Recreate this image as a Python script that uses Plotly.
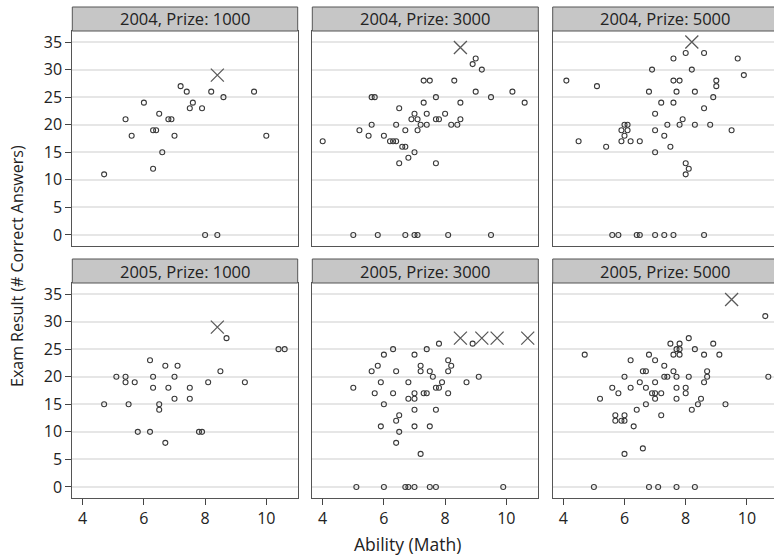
import plotly.graph_objects as go

W, H = 774, 555
FONT = "Open Sans"

panel_titles = ["2004, Prize: 1000", "2004, Prize: 3000", "2004, Prize: 5000",
                "2005, Prize: 1000", "2005, Prize: 3000", "2005, Prize: 5000"]

# 2004, Prize 1000
ability_04_1000 = [4.7, 5.4, 5.6, 6.0, 6.3, 6.4, 6.3, 6.5, 6.6, 6.8, 6.9, 7.0, 7.2, 7.4, 7.5, 7.6,
                   7.9, 8.2, 8.6, 9.6, 10.0, 8.0, 8.4]
score_04_1000 = [11, 21, 18, 24, 19, 19, 12, 22, 15, 21, 21, 18, 27, 26, 23, 24,
                 23, 26, 25, 26, 18, 0, 0]
cross_ability_04_1000 = [8.4]
cross_score_04_1000 = [29]

# 2004, Prize 3000
ability_04_3000 = [4.0, 5.2, 5.5, 5.6, 5.7, 5.6, 6.0, 6.2, 6.3, 6.4, 6.4, 6.5, 6.5, 6.6, 6.7, 6.7,
                   6.8, 6.9, 7.0, 7.0, 7.1, 7.1, 7.2, 7.3, 7.3, 7.5, 7.4, 7.4, 7.7, 7.7, 7.8, 7.7,
                   8.0, 8.2, 8.4, 8.5, 8.5, 8.3, 8.9, 9.0, 9.2, 9.0, 9.5, 10.2, 10.6,
                   5.0, 5.8, 6.7, 7.0, 7.1, 8.1, 9.5]
score_04_3000 = [17, 19, 18, 25, 25, 20, 18, 17, 17, 17, 20, 23, 13, 16, 16, 19,
                 14, 21, 22, 15, 21, 19, 20, 24, 28, 28, 22, 20, 25, 21, 21, 13,
                 22, 20, 20, 21, 24, 28, 31, 32, 30, 26, 25, 26, 24,
                 0, 0, 0, 0, 0, 0, 0]
cross_ability_04_3000 = [8.5]
cross_score_04_3000 = [34]

# 2004, Prize 5000
ability_04_5000 = [4.1, 4.5, 5.1, 5.4, 5.9, 5.9, 6.0, 6.1, 6.1, 6.0, 6.2, 6.5, 6.8, 6.9, 7.0,
                   7.0, 7.0, 7.2, 7.3, 7.4, 7.5, 7.6, 7.6, 7.8, 7.6, 7.7, 7.8, 7.9, 8.0, 8.2,
                   8.0, 8.1, 8.0, 8.3, 8.3, 8.6, 8.6, 8.8, 8.9, 9.0, 9.0, 9.5, 9.7, 9.9,
                   5.6, 5.8, 6.4, 6.5, 7.0, 7.3, 7.6, 8.6]
score_04_5000 = [28, 17, 27, 16, 19, 17, 20, 20, 19, 18, 17, 17, 26, 30, 22,
                 19, 15, 24, 18, 20, 16, 24, 28, 28, 32, 26, 20, 21, 33, 30,
                 13, 12, 11, 26, 20, 33, 23, 20, 25, 28, 27, 19, 32, 29,
                 0, 0, 0, 0, 0, 0, 0, 0]
cross_ability_04_5000 = [8.2]
cross_score_04_5000 = [35]

# 2005, Prize 1000
ability_05_1000 = [4.7, 5.1, 5.4, 5.4, 5.5, 5.7, 5.8, 6.2, 6.2, 6.3, 6.3, 6.5, 6.5, 6.7, 6.7,
                   6.8, 7.0, 7.0, 7.1, 7.5, 7.5, 7.8, 7.9, 8.1, 8.5, 8.7, 9.3, 10.4, 10.6]
score_05_1000 = [15, 20, 20, 19, 15, 19, 10, 10, 23, 20, 18, 15, 14, 22, 8,
                 18, 20, 16, 22, 18, 16, 10, 10, 19, 21, 27, 19, 25, 25]
cross_ability_05_1000 = [8.4]
cross_score_05_1000 = [29]

# 2005, Prize 3000
ability_05_3000 = [5.0, 5.7, 5.6, 5.8, 5.9, 5.9, 6.0, 6.0, 6.3, 6.3, 6.4, 6.4, 6.5, 6.5, 6.4,
                   6.8, 6.8, 7.0, 7.0, 7.0, 7.0, 7.0, 7.2, 7.2, 7.2, 7.3, 7.4, 7.4, 7.5, 7.5,
                   7.6, 7.7, 7.7, 7.8, 7.8, 7.9, 8.1, 8.1, 8.1, 8.2, 8.7, 8.9, 9.1,
                   5.1, 6.0, 6.7, 6.8, 7.0, 7.5, 7.7, 9.9]
score_05_3000 = [18, 17, 21, 22, 19, 11, 24, 15, 25, 17, 21, 12, 13, 10, 8,
                 19, 16, 24, 17, 16, 14, 11, 22, 21, 6, 17, 17, 25, 21, 11,
                 20, 18, 14, 18, 26, 19, 23, 21, 17, 22, 19, 26, 20,
                 0, 0, 0, 0, 0, 0, 0, 0]
cross_ability_05_3000 = [8.5, 9.2, 9.7, 10.7]
cross_score_05_3000 = [27, 27, 27, 27]

# 2005, Prize 5000
ability_05_5000 = [4.7, 5.2, 5.6, 5.7, 5.7, 5.8, 5.9, 6.0, 6.0, 6.0, 6.0, 6.2, 6.2, 6.3, 6.4,
                   6.5, 6.6, 6.6, 6.7, 6.7, 6.7, 6.8, 6.9, 7.0, 7.0, 7.0, 7.0, 7.2, 7.2, 7.3,
                   7.3, 7.4, 7.5, 7.6, 7.6, 7.7, 7.7, 7.7, 7.7, 7.8, 7.8, 7.8, 8.0, 8.0, 8.1,
                   8.1, 8.2, 8.3, 8.4, 8.5, 8.6, 8.6, 8.7, 8.7, 8.9, 9.1, 9.3, 10.6, 10.7,
                   5.0, 6.8, 7.1, 7.7, 8.3]
score_05_5000 = [24, 16, 18, 13, 12, 17, 12, 12, 13, 20, 6, 23, 18, 11, 14,
                 19, 21, 7, 21, 18, 15, 24, 17, 17, 16, 19, 23, 17, 13, 22,
                 20, 20, 26, 24, 21, 25, 20, 18, 16, 26, 25, 24, 18, 17, 27,
                 20, 14, 25, 15, 16, 24, 19, 20, 21, 26, 24, 15, 31, 20,
                 0, 0, 0, 0, 0]
cross_ability_05_5000 = [9.5]
cross_score_05_5000 = [34]

x_ticks = [4, 6, 8, 10]
y_ticks = [0, 5, 10, 15, 20, 25, 30, 35]

panels = [
    (ability_04_1000, score_04_1000, cross_ability_04_1000, cross_score_04_1000),
    (ability_04_3000, score_04_3000, cross_ability_04_3000, cross_score_04_3000),
    (ability_04_5000, score_04_5000, cross_ability_04_5000, cross_score_04_5000),
    (ability_05_1000, score_05_1000, cross_ability_05_1000, cross_score_05_1000),
    (ability_05_3000, score_05_3000, cross_ability_05_3000, cross_score_05_3000),
    (ability_05_5000, score_05_5000, cross_ability_05_5000, cross_score_05_5000),
]

# layout geometry (pixels)
col_px = [(72.3, 297.7), (312.3, 538.3), (552.7, 774.0)]
col_virtual_right = [297.7, 538.3, 778.7]
row_px = [(31, 246), (283, 498)]          # plot area top/bottom
strip_px = [(7, 31), (259, 283)]
px_per_unit = 30.6
tick4_px = [82.7, 322.7, 563.3]

fig = go.Figure()
layout = dict(
    width=W, height=H,
    margin=dict(l=0, r=0, t=0, b=0),
    paper_bgcolor="white", plot_bgcolor="white",
    showlegend=False,
    font=dict(family=FONT, color="#222222"),
    shapes=[], annotations=[],
)

for i, (ax, sc, cax, csc) in enumerate(panels):
    r, c = divmod(i, 3)
    n = i + 1
    xa = "x" if n == 1 else f"x{n}"
    ya = "y" if n == 1 else f"y{n}"
    fig.add_trace(go.Scatter(
        x=ax, y=sc, mode="markers", xaxis=xa, yaxis=ya,
        marker=dict(symbol="circle-open", size=5, color="#3a3a3a", line=dict(width=1.1)),
        hoverinfo="skip"))
    fig.add_trace(go.Scatter(
        x=cax, y=csc, mode="markers", xaxis=xa, yaxis=ya,
        marker=dict(symbol="x-thin-open", size=13, color="#5a5a5a", line=dict(width=1.3)),
        hoverinfo="skip"))

    x0p, x1p = col_px[c]
    xmin = 4 + (x0p - tick4_px[c]) / px_per_unit
    xmax = 4 + (x1p - tick4_px[c]) / px_per_unit
    ytop, ybot = row_px[r]
    xkey = "xaxis" if n == 1 else f"xaxis{n}"
    ykey = "yaxis" if n == 1 else f"yaxis{n}"
    layout[xkey] = dict(
        domain=[x0p / W, min(x1p / W, 1.0)], range=[xmin, xmax], anchor=ya,
        tickvals=x_ticks, showticklabels=(r == 1),
        ticks="outside" if r == 1 else "", ticklen=6, tickcolor="#444444", tickwidth=1,
        showgrid=False, zeroline=False,
        showline=True, linecolor="#555555", linewidth=1, mirror=True,
        tickfont=dict(size=16, family=FONT, color="#222222"),
    )
    layout[ykey] = dict(
        domain=[(H - ybot) / H, (H - ytop) / H], range=[-2, 37], anchor=xa,
        tickvals=y_ticks, showticklabels=(c == 0),
        ticks="outside" if c == 0 else "", ticklen=6, tickcolor="#444444", tickwidth=1,
        showgrid=True, gridcolor="#e6e6e6", gridwidth=1.5, zeroline=False,
        showline=True, linecolor="#555555", linewidth=1, mirror=True,
        tickfont=dict(size=16, family=FONT, color="#222222"),
    )

    s0, s1 = strip_px[r]
    layout["shapes"].append(dict(
        type="rect", xref="paper", yref="paper",
        x0=x0p / W, x1=col_virtual_right[c] / W, y0=(H - s1) / H, y1=(H - s0) / H,
        fillcolor="#c6c6c6", line=dict(color="#555555", width=1), layer="above"))
    layout["annotations"].append(dict(
        text=panel_titles[i], xref="paper", yref="paper",
        x=(x0p + col_virtual_right[c]) / 2 / W, y=(H - (s0 + s1) / 2) / H,
        xanchor="center", yanchor="middle", showarrow=False,
        font=dict(size=16.5, family=FONT, color="#222222")))

layout["annotations"].append(dict(
    text="Ability (Math)", xref="paper", yref="paper", x=407 / W, y=(H - 544) / H,
    xanchor="center", yanchor="middle", showarrow=False,
    font=dict(size=17.5, family=FONT, color="#222222")))
layout["annotations"].append(dict(
    text="Exam Result (# Correct Answers)", xref="paper", yref="paper", x=17 / W, y=(H - 266) / H,
    xanchor="center", yanchor="middle", showarrow=False, textangle=-90,
    font=dict(size=16, family=FONT, color="#222222")))

fig.update_layout(**layout)
fig.write_html(
    "out.html",
    config={"displayModeBar": False},
    post_script="document.body.style.margin='0';document.body.style.padding='0';"
                "document.body.style.overflow='hidden';",
)
